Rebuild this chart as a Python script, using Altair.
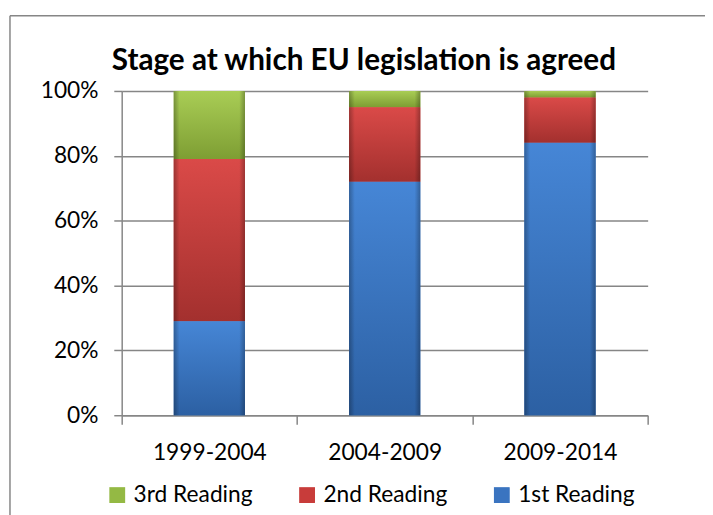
import altair as alt
import pandas as pd

periods = ["1999-2004", "2004-2009", "2009-2014"]
stages = ["3rd Reading", "2nd Reading", "1st Reading"]
first_reading = [29, 72, 84]
second_reading = [50, 23, 14]
third_reading = [21, 5, 2]
y_ticks = [0, 0.2, 0.4, 0.6, 0.8, 1.0]
title_text = "Stage at which EU legislation is agreed"

colors = {"3rd Reading": "#94B944", "2nd Reading": "#C83C3A", "1st Reading": "#3A74C0"}
grad = {
    "3rd Reading": ("#A9CD55", "#7E9E33"),
    "2nd Reading": ("#DA4A48", "#A3302E"),
    "1st Reading": ("#4686D6", "#2C60A3"),
}

rows = []
for i, p in enumerate(periods):
    rows.append({"period": p, "stage": "1st Reading", "share": first_reading[i], "order": 0})
    rows.append({"period": p, "stage": "2nd Reading", "share": second_reading[i], "order": 1})
    rows.append({"period": p, "stage": "3rd Reading", "share": third_reading[i], "order": 2})
df = pd.DataFrame(rows)

FONT = "Lato"
GRAY = "#868686"

x_enc = alt.X(
    "period:N",
    sort=periods,
    scale=alt.Scale(paddingInner=0, paddingOuter=0),
    axis=alt.Axis(
        title=None, labelAngle=0, labelFont=FONT, labelFontSize=23, labelColor="#000",
        domainColor=GRAY, domainWidth=1.5, tickColor=GRAY, tickWidth=1.5, tickSize=9,
        tickBand="extent", labelPadding=18, grid=False,
    ),
)

base = alt.Chart(df).transform_calculate(frac="datum.share/100").transform_stack(
    stack="frac", groupby=["period"], as_=["y0", "y1"],
    sort=[alt.SortField("order", order="ascending")],
)

bars = base.mark_bar(size=72).encode(
    x=x_enc,
    y=alt.Y(
        "y0:Q",
        scale=alt.Scale(domain=[0, 1], nice=False),
        axis=alt.Axis(
            title=None, values=y_ticks, format="%", labelFont=FONT, labelFontSize=23,
            labelColor="#000", gridColor=GRAY, gridWidth=1.5, domainColor=GRAY,
            domainWidth=1.5, tickColor=GRAY, tickWidth=1.5, tickSize=8, labelPadding=16,
        ),
    ),
    y2="y1:Q",
    color=alt.Color(
        "stage:N",
        scale=alt.Scale(domain=stages, range=[colors[s] for s in stages]),
        legend=alt.Legend(
            title=None, orient="none", direction="horizontal", legendX=-16, legendY=397,
            symbolType="square", symbolSize=256, symbolStrokeWidth=0, labelFont=FONT,
            labelFontSize=23, labelColor="#000", labelOffset=5, columnPadding=43,
        ),
    ),
)

layers = [bars]
for s in stages:
    g = alt.Gradient(
        gradient="linear", x1=0, x2=0, y1=0, y2=1,
        stops=[alt.GradientStop(color=grad[s][0], offset=0),
               alt.GradientStop(color=grad[s][1], offset=1)],
    )
    layers.append(
        base.transform_filter(alt.datum.stage == s).mark_bar(size=72, color=g).encode(
            x=alt.X("period:N", sort=periods), y="y0:Q", y2="y1:Q"
        )
    )
edge = alt.Gradient(
    gradient="linear", x1=0, x2=1, y1=0, y2=0,
    stops=[alt.GradientStop(color="rgba(0,0,0,0.28)", offset=0),
           alt.GradientStop(color="rgba(0,0,0,0)", offset=0.08),
           alt.GradientStop(color="rgba(0,0,0,0)", offset=0.92),
           alt.GradientStop(color="rgba(0,0,0,0.28)", offset=1)],
)
layers.append(
    base.mark_bar(size=72, color=edge).encode(
        x=alt.X("period:N", sort=periods), y="y0:Q", y2="y1:Q"
    )
)

frame_df = pd.DataFrame({"k": [0]})
frame_top = alt.Chart(frame_df).mark_rule(color=GRAY, strokeWidth=1.5).encode(
    x=alt.value(-113), x2=alt.value(620), y=alt.value(-76)
)
frame_left = alt.Chart(frame_df).mark_rule(color=GRAY, strokeWidth=1.5).encode(
    x=alt.value(-113), y=alt.value(-76), y2=alt.value(440)
)
title_mark = alt.Chart(frame_df).mark_text(
    text=title_text, font=FONT, fontSize=30, fontWeight="bold", color="#000",
    align="center", baseline="alphabetic",
).encode(x=alt.value(245), y=alt.value(-21))
layers += [frame_top, frame_left, title_mark]

chart = alt.layer(*layers).properties(
    width=532,
    height=328,
    autosize=alt.AutoSizeParams(type="none"),
    padding={"left": 115, "top": 81, "right": 58, "bottom": 98},
).configure_view(stroke=None)

chart.save("out.html", embed_options={"renderer": "svg", "actions": False})
